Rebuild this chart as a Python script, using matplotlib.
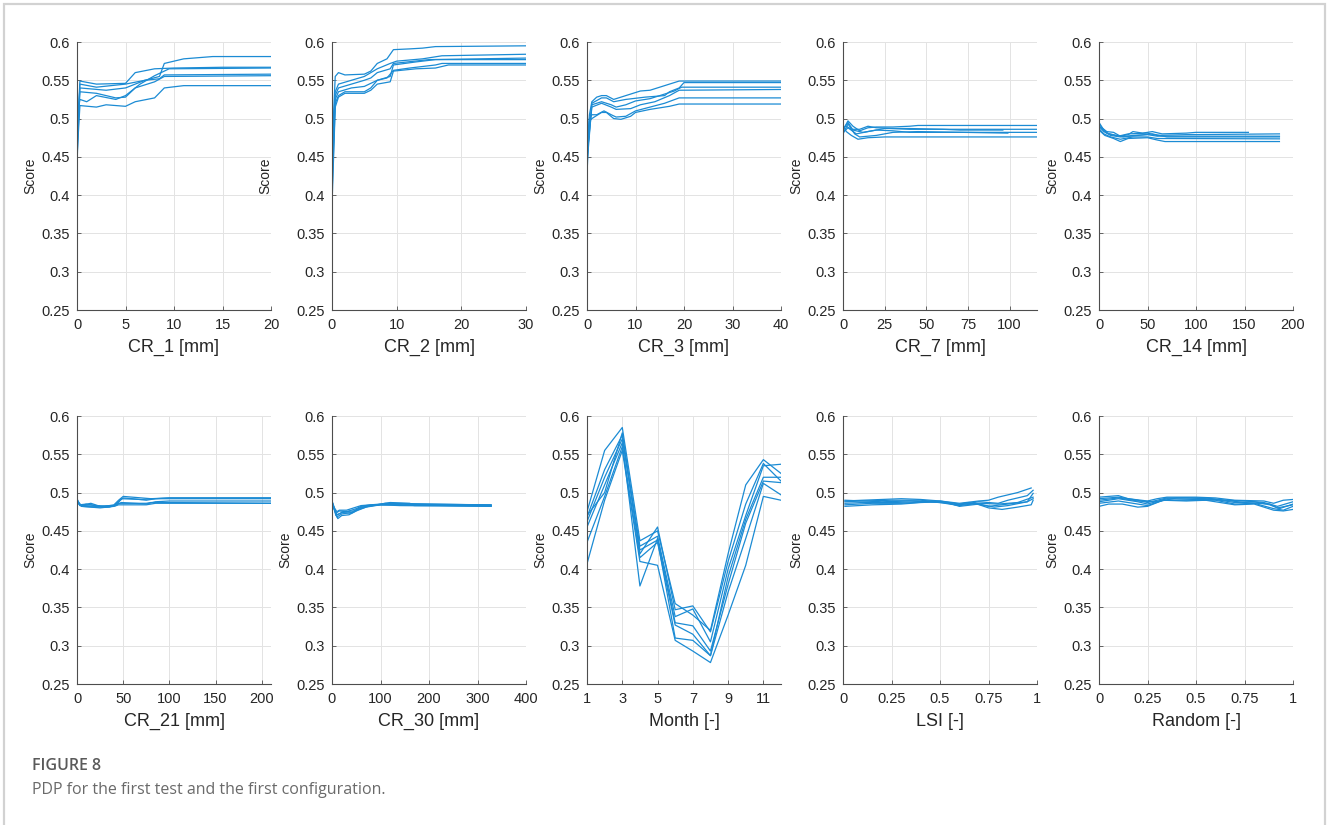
import matplotlib
matplotlib.use("Agg")
import matplotlib.pyplot as plt
from matplotlib.patches import Rectangle

plt.rcParams['font.family'] = ['Liberation Sans', 'DejaVu Sans']

# ---- data (6 PDP curves per panel) ----
cr1_x = [
    [0, 0.3, 2, 5, 7, 8.5, 9, 11, 14, 20],
    [0, 0.3, 2, 5, 6, 8, 10, 15, 20],
    [0, 0.3, 3, 5, 7, 8.5, 9, 20],
    [0, 0.3, 2, 4, 5, 6, 8, 9, 20],
    [0, 0.3, 2, 3, 5, 6, 8, 9, 11, 20],
    [0, 0.3, 1, 2, 4, 5, 6.5, 8, 9.5, 20],
]
cr1_y = [
    [0.44, 0.545, 0.541, 0.545, 0.55, 0.555, 0.572, 0.578, 0.581, 0.581],
    [0.47, 0.549, 0.545, 0.546, 0.56, 0.565, 0.566, 0.567, 0.567],
    [0.48, 0.54, 0.537, 0.54, 0.55, 0.552, 0.557, 0.558],
    [0.46, 0.535, 0.533, 0.527, 0.528, 0.54, 0.548, 0.555, 0.556],
    [0.45, 0.517, 0.515, 0.518, 0.516, 0.522, 0.527, 0.54, 0.543, 0.543],
    [0.50, 0.525, 0.522, 0.53, 0.525, 0.53, 0.545, 0.556, 0.565, 0.566],
]

cr2_x = [
    [0, 0.5, 1, 2, 5, 6, 7, 8.5, 9.5, 12, 14, 16, 30],
    [0, 0.5, 1, 3, 5, 7, 9, 10, 14, 17, 30],
    [0, 0.5, 1, 3, 5, 6, 7, 9, 9.5, 15, 30],
    [0, 0.5, 1, 3, 5, 7, 9, 9.5, 13, 16, 30],
    [0, 0.5, 1, 2, 5, 6, 7, 8.5, 9.5, 12, 16, 17, 30],
    [0, 0.5, 1, 2, 5, 6, 7, 9, 9.5, 13, 16, 18, 30],
]
cr2_y = [
    [0.46, 0.555, 0.56, 0.557, 0.558, 0.562, 0.572, 0.578, 0.59, 0.591, 0.592, 0.594, 0.595],
    [0.45, 0.535, 0.545, 0.55, 0.555, 0.565, 0.572, 0.575, 0.578, 0.582, 0.584],
    [0.44, 0.53, 0.54, 0.545, 0.55, 0.553, 0.56, 0.565, 0.572, 0.577, 0.579],
    [0.42, 0.525, 0.535, 0.54, 0.542, 0.55, 0.555, 0.57, 0.574, 0.577, 0.577],
    [0.40, 0.52, 0.53, 0.535, 0.535, 0.54, 0.55, 0.553, 0.563, 0.566, 0.57, 0.572, 0.572],
    [0.387, 0.515, 0.528, 0.533, 0.533, 0.537, 0.545, 0.548, 0.562, 0.565, 0.566, 0.57, 0.57],
]

cr3_x = [
    [0, 0.5, 1, 2, 3, 4, 5.5, 7, 9, 11, 13, 15, 17, 19, 40],
    [0, 1, 3, 4, 5.5, 8, 12, 16, 17, 19, 20, 40],
    [0, 1, 3, 5, 6, 8, 10, 13, 16, 18, 19.5, 40],
    [0, 1, 3, 5, 6, 9, 11, 14, 17, 19, 40],
    [0, 0.5, 1, 2, 3.5, 5, 6, 8, 10, 13, 16, 19, 40],
    [0, 0.5, 1, 3, 4, 5.5, 7, 9, 10, 13, 17, 19, 40],
]
cr3_y = [
    [0.46, 0.505, 0.522, 0.528, 0.53, 0.53, 0.525, 0.528, 0.532, 0.536, 0.537, 0.541, 0.545, 0.549, 0.549],
    [0.45, 0.52, 0.527, 0.527, 0.522, 0.525, 0.528, 0.53, 0.535, 0.54, 0.547, 0.547],
    [0.44, 0.518, 0.522, 0.518, 0.515, 0.518, 0.523, 0.526, 0.532, 0.536, 0.541, 0.541],
    [0.45, 0.515, 0.52, 0.515, 0.512, 0.513, 0.518, 0.522, 0.53, 0.537, 0.538],
    [0.427, 0.5, 0.505, 0.505, 0.51, 0.505, 0.502, 0.503, 0.51, 0.515, 0.52, 0.527, 0.527],
    [0.44, 0.497, 0.5, 0.508, 0.508, 0.5, 0.499, 0.503, 0.508, 0.512, 0.516, 0.519, 0.519],
]

cr7_x = [
    [0, 3, 6, 10, 15, 20, 30, 40, 45, 116.5],
    [0, 2, 5, 10, 15, 20, 30, 40, 116.5],
    [0, 3, 8, 15, 25, 40, 60, 70, 96],
    [0, 3, 7, 10, 20, 30, 45, 99],
    [0, 2, 5, 9, 15, 25, 116.5],
    [0, 3, 6, 12, 20, 30, 40, 116.5],
]
cr7_y = [
    [0.485, 0.497, 0.49, 0.484, 0.488, 0.489, 0.489, 0.49, 0.491, 0.491],
    [0.488, 0.49, 0.486, 0.486, 0.49, 0.488, 0.487, 0.486, 0.486],
    [0.482, 0.488, 0.48, 0.483, 0.487, 0.487, 0.486, 0.485, 0.485],
    [0.48, 0.493, 0.48, 0.476, 0.478, 0.482, 0.483, 0.481],
    [0.49, 0.483, 0.478, 0.473, 0.475, 0.476, 0.476],
    [0.486, 0.495, 0.485, 0.482, 0.485, 0.484, 0.482, 0.482],
]

cr14_x = [
    [0, 3, 8, 15, 22, 30, 35, 45, 55, 65, 90, 100, 154],
    [0, 5, 10, 20, 30, 50, 60, 90, 186],
    [0, 5, 12, 22, 35, 50, 60, 186],
    [0, 5, 12, 22, 35, 50, 60, 186],
    [0, 6, 15, 22, 30, 50, 60, 68, 186],
    [0, 8, 18, 25, 40, 55, 70, 186],
]
cr14_y = [
    [0.493, 0.488, 0.483, 0.482, 0.477, 0.479, 0.483, 0.481, 0.483, 0.48, 0.481, 0.482, 0.482],
    [0.495, 0.485, 0.48, 0.477, 0.48, 0.481, 0.478, 0.479, 0.48],
    [0.49, 0.483, 0.478, 0.476, 0.478, 0.479, 0.477, 0.477],
    [0.487, 0.48, 0.476, 0.473, 0.476, 0.476, 0.474, 0.4735],
    [0.485, 0.478, 0.474, 0.47, 0.474, 0.475, 0.472, 0.47, 0.47],
    [0.49, 0.481, 0.478, 0.476, 0.478, 0.48, 0.476, 0.476],
]

cr21_x = [
    [0, 3, 10, 20, 30, 40, 45, 50, 60, 80, 100, 210],
    [0, 3, 15, 25, 40, 45, 50, 60, 75, 85, 210],
    [0, 5, 20, 35, 43, 48, 75, 85, 100, 210],
    [0, 5, 20, 40, 45, 75, 80, 100, 210],
    [0, 5, 25, 40, 45, 75, 85, 210],
    [0, 4, 15, 30, 42, 48, 70, 100, 210],
]
cr21_y = [
    [0.492, 0.484, 0.485, 0.483, 0.482, 0.484, 0.49, 0.495, 0.494, 0.492, 0.493, 0.493],
    [0.49, 0.483, 0.486, 0.482, 0.483, 0.488, 0.493, 0.492, 0.49, 0.492, 0.492],
    [0.488, 0.482, 0.481, 0.481, 0.484, 0.487, 0.485, 0.488, 0.489, 0.489],
    [0.489, 0.483, 0.482, 0.483, 0.486, 0.486, 0.487, 0.487, 0.486],
    [0.487, 0.482, 0.48, 0.482, 0.484, 0.484, 0.486, 0.486],
    [0.491, 0.483, 0.484, 0.481, 0.483, 0.492, 0.491, 0.493, 0.493],
]

cr30_x = [
    [0, 5, 10, 15, 30, 50, 60, 80, 100, 120, 160, 170, 328],
    [0, 8, 15, 30, 50, 60, 80, 100, 150, 170, 328],
    [0, 10, 20, 40, 55, 70, 100, 160, 328],
    [0, 12, 20, 35, 50, 70, 100, 140, 328],
    [0, 8, 20, 40, 55, 75, 110, 160, 328],
    [0, 10, 25, 45, 60, 90, 120, 300, 328],
]
cr30_y = [
    [0.489, 0.48, 0.475, 0.477, 0.477, 0.481, 0.483, 0.484, 0.485, 0.487, 0.486, 0.484, 0.484],
    [0.488, 0.473, 0.476, 0.475, 0.479, 0.482, 0.484, 0.484, 0.485, 0.483, 0.483],
    [0.487, 0.468, 0.472, 0.474, 0.479, 0.482, 0.484, 0.484, 0.482],
    [0.486, 0.466, 0.47, 0.471, 0.476, 0.481, 0.484, 0.483, 0.482],
    [0.489, 0.47, 0.474, 0.473, 0.478, 0.482, 0.486, 0.485, 0.484],
    [0.487, 0.471, 0.475, 0.476, 0.481, 0.484, 0.486, 0.484, 0.483],
]

months = [1, 2, 3, 4, 5, 6, 7, 8, 9, 10, 11, 12]
month_y = [
    [0.475, 0.555, 0.585, 0.437, 0.450, 0.355, 0.340, 0.320, 0.420, 0.510, 0.543, 0.525],
    [0.468, 0.530, 0.575, 0.420, 0.455, 0.347, 0.352, 0.318, 0.410, 0.485, 0.538, 0.515],
    [0.462, 0.520, 0.570, 0.430, 0.443, 0.338, 0.348, 0.305, 0.400, 0.470, 0.535, 0.537],
    [0.455, 0.510, 0.565, 0.378, 0.440, 0.330, 0.326, 0.293, 0.380, 0.460, 0.515, 0.513],
    [0.435, 0.495, 0.560, 0.415, 0.435, 0.327, 0.315, 0.287, 0.370, 0.440, 0.512, 0.497],
    [0.407, 0.490, 0.555, 0.410, 0.405, 0.307, 0.293, 0.278, 0.340, 0.405, 0.495, 0.490],
    [0.470, 0.500, 0.578, 0.425, 0.438, 0.310, 0.307, 0.287, 0.390, 0.465, 0.520, 0.520],
]

lsi_x = [
    [0.01, 0.1, 0.2, 0.3, 0.4, 0.5, 0.6, 0.7, 0.75, 0.8, 0.9, 0.97],
    [0.01, 0.1, 0.25, 0.4, 0.5, 0.6, 0.7, 0.8, 0.85, 0.95, 0.98],
    [0.01, 0.1, 0.25, 0.4, 0.5, 0.6, 0.65, 0.75, 0.85, 0.95, 0.98],
    [0.01, 0.15, 0.3, 0.45, 0.55, 0.6, 0.7, 0.78, 0.85, 0.95, 0.98],
    [0.01, 0.15, 0.3, 0.4, 0.5, 0.58, 0.68, 0.75, 0.82, 0.9, 0.97, 0.98],
    [0.01, 0.2, 0.35, 0.5, 0.6, 0.7, 0.8, 0.9, 0.98],
]
lsi_y = [
    [0.489, 0.49, 0.491, 0.492, 0.491, 0.489, 0.486, 0.489, 0.49, 0.494, 0.5, 0.506],
    [0.488, 0.489, 0.49, 0.49, 0.488, 0.484, 0.488, 0.486, 0.49, 0.496, 0.503],
    [0.486, 0.487, 0.487, 0.488, 0.489, 0.485, 0.487, 0.482, 0.485, 0.488, 0.499],
    [0.484, 0.486, 0.486, 0.488, 0.486, 0.482, 0.485, 0.481, 0.483, 0.488, 0.492],
    [0.482, 0.484, 0.485, 0.487, 0.488, 0.484, 0.486, 0.48, 0.478, 0.481, 0.484, 0.49],
    [0.49, 0.488, 0.489, 0.487, 0.483, 0.486, 0.485, 0.487, 0.494],
]

rand_x = [
    [0, 0.05, 0.1, 0.15, 0.25, 0.3, 0.35, 0.5, 0.6, 0.7, 0.85, 0.9, 0.95, 1],
    [0, 0.1, 0.2, 0.25, 0.35, 0.45, 0.55, 0.65, 0.75, 0.85, 0.92, 1],
    [0, 0.1, 0.2, 0.25, 0.35, 0.5, 0.6, 0.7, 0.8, 0.88, 0.93, 1],
    [0, 0.1, 0.2, 0.25, 0.33, 0.45, 0.6, 0.7, 0.8, 0.9, 0.95, 1],
    [0, 0.05, 0.12, 0.2, 0.25, 0.33, 0.45, 0.55, 0.7, 0.8, 0.9, 0.95, 1],
    [0, 0.1, 0.2, 0.3, 0.4, 0.55, 0.65, 0.75, 0.88, 0.92, 1],
]
rand_y = [
    [0.494, 0.495, 0.496, 0.492, 0.489, 0.492, 0.494, 0.494, 0.493, 0.49, 0.489, 0.486, 0.49, 0.491],
    [0.492, 0.494, 0.49, 0.487, 0.493, 0.493, 0.492, 0.49, 0.489, 0.487, 0.482, 0.488],
    [0.488, 0.492, 0.488, 0.485, 0.492, 0.491, 0.491, 0.487, 0.488, 0.484, 0.479, 0.485],
    [0.486, 0.489, 0.485, 0.483, 0.49, 0.49, 0.49, 0.485, 0.486, 0.479, 0.477, 0.482],
    [0.482, 0.485, 0.485, 0.481, 0.482, 0.49, 0.489, 0.49, 0.484, 0.485, 0.477, 0.476, 0.478],
    [0.49, 0.493, 0.489, 0.488, 0.493, 0.493, 0.49, 0.487, 0.485, 0.48, 0.484],
]

x_labels = ["CR_1 [mm]", "CR_2 [mm]", "CR_3 [mm]", "CR_7 [mm]", "CR_14 [mm]",
            "CR_21 [mm]", "CR_30 [mm]", "Month [-]", "LSI [-]", "Random [-]"]
x_limits = [(0, 20), (0, 30), (0, 40), (0, 116.5), (0, 200),
            (0, 210), (0, 400), (1, 12), (0, 1), (0, 1)]
x_ticks = [[0, 5, 10, 15, 20], [0, 10, 20, 30], [0, 10, 20, 30, 40],
           [0, 25, 50, 75, 100], [0, 50, 100, 150, 200],
           [0, 50, 100, 150, 200], [0, 100, 200, 300, 400],
           [1, 3, 5, 7, 9, 11], [0, 0.25, 0.5, 0.75, 1], [0, 0.25, 0.5, 0.75, 1]]
y_ticks = [0.25, 0.3, 0.35, 0.4, 0.45, 0.5, 0.55, 0.6]

panels = [
    (cr1_x, cr1_y), (cr2_x, cr2_y), (cr3_x, cr3_y), (cr7_x, cr7_y), (cr14_x, cr14_y),
    (cr21_x, cr21_y), (cr30_x, cr30_y), ([months] * len(month_y), month_y),
    (lsi_x, lsi_y), (rand_x, rand_y),
]

W, H = 1328, 825
fig = plt.figure(figsize=(W / 100, H / 100), dpi=100)

# light frame around the figure panel
fig.patches.append(Rectangle((4 / W, -0.02), (W - 7) / W, 1 - 4 / H + 0.02,
                             transform=fig.transFigure, fill=False,
                             edgecolor='#d2d2d2', linewidth=1.6))

col_left = [77, 332, 587, 843, 1099]
row_top = [42, 416]
ax_w, ax_h = 194, 268
line_color = '#1b8bd4'
dark = '#262626'

for i, (xs, ys) in enumerate(panels):
    r, c = divmod(i, 5)
    left = col_left[c] / W
    bottom = 1 - (row_top[r] + ax_h) / H
    ax = fig.add_axes([left, bottom, ax_w / W, ax_h / H])
    for x, y in zip(xs, ys):
        ax.plot(x, y, color=line_color, linewidth=0.9)
    ax.set_xlim(*x_limits[i])
    ax.set_ylim(0.25, 0.6)
    ax.set_xticks(x_ticks[i])
    ax.set_xticklabels(['%g' % t for t in x_ticks[i]])
    ax.set_yticks(y_ticks)
    ax.set_yticklabels(['%g' % t for t in y_ticks])
    ax.grid(True, color='#e3e3e3', linewidth=0.7)
    ax.set_axisbelow(True)
    for s in ['top', 'right']:
        ax.spines[s].set_visible(False)
    for s in ['left', 'bottom']:
        ax.spines[s].set_color('#4d4d4d')
        ax.spines[s].set_linewidth(0.8)
    ax.tick_params(direction='in', length=3, width=0.6, colors='#4d4d4d',
                   labelcolor=dark, labelsize=10.5)
    ax.tick_params(axis='x', pad=6)
    ax.tick_params(axis='y', pad=5)
    ax.set_xlabel(x_labels[i], fontsize=13, color=dark, labelpad=5)
    ax.set_ylabel("Score", fontsize=10, color=dark)
    off = 60 if i == 1 else 40
    ax.yaxis.set_label_coords(-off / ax_w, 0.5)

fig.text(32 / W, 1 - 766 / H, "FIGURE 8", fontsize=11.5, color='#5a5a5a',
         family=['Open Sans', 'DejaVu Sans'], weight='semibold', va='center')
fig.text(32 / W, 1 - 790 / H, "PDP for the first test and the first configuration.",
         fontsize=11.5, color='#6a6a6a', family=['Open Sans', 'DejaVu Sans'], va='center')

fig.savefig("out.png", dpi=100)
